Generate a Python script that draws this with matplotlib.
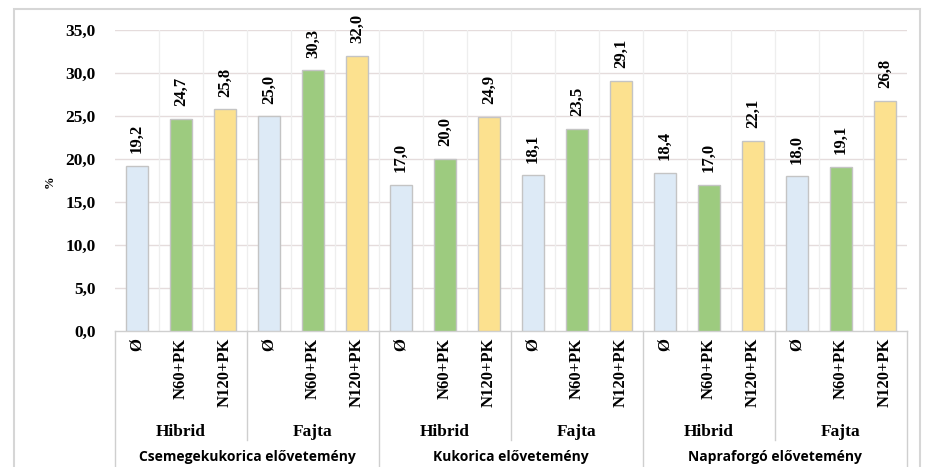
import matplotlib
matplotlib.use("Agg")
import matplotlib.pyplot as plt
from matplotlib.patches import Rectangle

groups = ["Csemegekukorica elővetemény", "Kukorica elővetemény", "Napraforgó elővetemény"]
types = ["Hibrid", "Fajta"]
treatments = ["Ø", "N60+PK", "N120+PK"]
values = [19.2, 24.7, 25.8, 25.0, 30.3, 32.0,
          17.0, 20.0, 24.9, 18.1, 23.5, 29.1,
          18.4, 17.0, 22.1, 18.0, 19.1, 26.8]
yticks = [0, 5, 10, 15, 20, 25, 30, 35]

colors = ["#DDEAF6", "#9DCB7F", "#FCE18F"]
serif = "Liberation Serif"
sans = "Open Sans"


def main():
    fig = plt.figure(figsize=(9.31, 4.67), dpi=100)
    # light frame around the whole chart
    fig.patches.append(Rectangle((14 / 931, -0.05), 906 / 931, 1.05 - 9 / 467,
                                 transform=fig.transFigure, fill=False,
                                 edgecolor="#D6D6D6", linewidth=1.5))
    ax = fig.add_axes([115 / 931, 1 - 331 / 467, 792 / 931, 301 / 467])

    n = len(values)
    x = list(range(n))
    bar_colors = [colors[i % 3] for i in x]
    ax.bar(x, values, width=0.52, color=bar_colors, edgecolor="#C4C4C4",
           linewidth=1.0, zorder=3)

    for xi, v in zip(x, values):
        ax.annotate(f"{v:.1f}".replace(".", ","), (xi, v), xytext=(0, 9),
                    textcoords="offset points", rotation=90, ha="center",
                    va="bottom", fontsize=12, fontweight="bold",
                    family=serif, zorder=4)

    ax.set_xlim(-0.5, n - 0.5)
    ax.set_ylim(0, 35)
    ax.set_yticks(yticks)
    ax.set_yticklabels([f"{t:.1f}".replace(".", ",") for t in yticks],
                       fontsize=12.5, fontweight="bold", family=serif)
    ax.tick_params(axis="y", length=0, pad=14)
    ax.set_xticks([])
    for s in ax.spines.values():
        s.set_visible(False)

    # grid: horizontal at ticks, vertical at category boundaries
    for t in yticks[1:]:
        ax.axhline(t, color="#E5DCDC", linewidth=1.0, zorder=1)
    for b in range(1, n):
        ax.axvline(b - 0.5, color="#EEEEEE", linewidth=0.9, zorder=1)

    fig.text(50 / 931, 1 - 182 / 467, "%", rotation=90, ha="center", va="center",
             fontsize=9, fontweight="bold", family=serif)

    # multi-level category axis
    tr = ax.get_xaxis_transform()
    line_kw = dict(color="#CFCFCF", linewidth=1.0, clip_on=False, transform=tr)
    ax.plot([-0.5, n - 0.5], [0, 0], **line_kw)
    for i in range(n):
        ax.text(i, -0.022, treatments[i % 3], rotation=90, ha="center", va="top",
                fontsize=12, fontweight="bold", family=serif, transform=tr,
                clip_on=False)
    for k in range(len(groups) * len(types)):
        start = k * 3 - 0.5
        ax.text(start + 1.5, -0.336, types[k % 2], ha="center", va="center",
                fontsize=12.5, fontweight="bold", family=serif, transform=tr)
        bottom = -0.362 if k % 2 == 1 else -0.47
        ax.plot([start, start], [0, bottom], **line_kw)
    ax.plot([n - 0.5, n - 0.5], [0, -0.47], **line_kw)
    for g, name in enumerate(groups):
        ax.text(g * 6 + 2.5, -0.42, name, ha="center", va="center",
                fontsize=10, fontweight="bold", family=sans, transform=tr)

    fig.savefig("out.png", dpi=100)


if __name__ == "__main__":
    main()
